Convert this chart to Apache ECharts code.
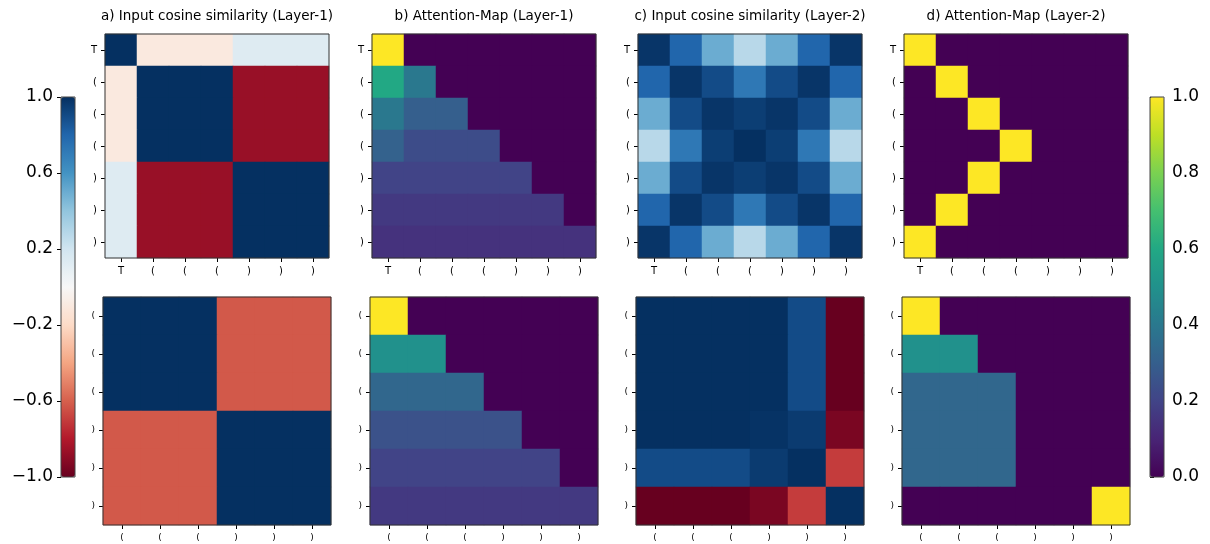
<!DOCTYPE html>
<html>
<head>
<meta charset="utf-8">
<script src="https://cdn.jsdelivr.net/npm/echarts@6/dist/echarts.min.js"></script>
<style>
  html, body { margin: 0; padding: 0; background: #fff; }
  #chart { width: 1210px; height: 544px; }
</style>
</head>
<body>
<div id="chart"></div>
<script>
// token labels
const tokensTop = ['T', '(', '(', '(', ')', ')', ')']
const tokensBottom = ['(', '(', '(', ')', ')', ')']

// a) input cosine similarity, layer 1
const cosL1Top = [
    [1.0, -0.1, -0.1, -0.1, 0.13, 0.13, 0.13],
    [-0.1, 1.0, 1.0, 1.0, -0.87, -0.87, -0.87],
    [-0.1, 1.0, 1.0, 1.0, -0.87, -0.87, -0.87],
    [-0.1, 1.0, 1.0, 1.0, -0.87, -0.87, -0.87],
    [0.13, -0.87, -0.87, -0.87, 1.0, 1.0, 1.0],
    [0.13, -0.87, -0.87, -0.87, 1.0, 1.0, 1.0],
    [0.13, -0.87, -0.87, -0.87, 1.0, 1.0, 1.0]
]
const cosL1Bottom = [
    [1.0, 1.0, 1.0, -0.62, -0.62, -0.62],
    [1.0, 1.0, 1.0, -0.62, -0.62, -0.62],
    [1.0, 1.0, 1.0, -0.62, -0.62, -0.62],
    [-0.62, -0.62, -0.62, 1.0, 1.0, 1.0],
    [-0.62, -0.62, -0.62, 1.0, 1.0, 1.0],
    [-0.62, -0.62, -0.62, 1.0, 1.0, 1.0]
]

// b) attention map, layer 1
const attnL1Top = [
    [1.0, 0, 0, 0, 0, 0, 0],
    [0.6, 0.4, 0, 0, 0, 0, 0],
    [0.4, 0.3, 0.3, 0, 0, 0, 0],
    [0.31, 0.23, 0.23, 0.23, 0, 0, 0],
    [0.2, 0.2, 0.2, 0.2, 0.2, 0, 0],
    [0.167, 0.167, 0.167, 0.167, 0.167, 0.167, 0],
    [0.143, 0.143, 0.143, 0.143, 0.143, 0.143, 0.143]
]
const attnL1Bottom = [
    [1.0, 0, 0, 0, 0, 0],
    [0.5, 0.5, 0, 0, 0, 0],
    [0.333, 0.333, 0.333, 0, 0, 0],
    [0.25, 0.25, 0.25, 0.25, 0, 0],
    [0.2, 0.2, 0.2, 0.2, 0.2, 0],
    [0.167, 0.167, 0.167, 0.167, 0.167, 0.167]
]

// c) input cosine similarity, layer 2
const cosL2Top = [
    [0.98, 0.8, 0.5, 0.28, 0.5, 0.8, 0.98],
    [0.8, 0.98, 0.9, 0.72, 0.9, 0.98, 0.8],
    [0.5, 0.9, 0.98, 0.95, 0.98, 0.9, 0.5],
    [0.28, 0.72, 0.95, 1.0, 0.95, 0.72, 0.28],
    [0.5, 0.9, 0.98, 0.95, 0.98, 0.9, 0.5],
    [0.8, 0.98, 0.9, 0.72, 0.9, 0.98, 0.8],
    [0.98, 0.8, 0.5, 0.28, 0.5, 0.8, 0.98]
]
const cosL2Bottom = [
    [1.0, 1.0, 1.0, 1.0, 0.9, -1.0],
    [1.0, 1.0, 1.0, 1.0, 0.9, -1.0],
    [1.0, 1.0, 1.0, 1.0, 0.9, -1.0],
    [1.0, 1.0, 1.0, 0.99, 0.96, -0.95],
    [0.9, 0.9, 0.9, 0.96, 1.0, -0.7],
    [-1.0, -1.0, -1.0, -0.95, -0.7, 1.0]
]

// d) attention map, layer 2
const attnL2Top = [
    [1, 0, 0, 0, 0, 0, 0],
    [0, 1, 0, 0, 0, 0, 0],
    [0, 0, 1, 0, 0, 0, 0],
    [0, 0, 0, 1, 0, 0, 0],
    [0, 0, 1, 0, 0, 0, 0],
    [0, 1, 0, 0, 0, 0, 0],
    [1, 0, 0, 0, 0, 0, 0]
]
const attnL2Bottom = [
    [1.0, 0, 0, 0, 0, 0],
    [0.5, 0.5, 0, 0, 0, 0],
    [0.333, 0.333, 0.333, 0, 0, 0],
    [0.333, 0.333, 0.333, 0, 0, 0],
    [0.333, 0.333, 0.333, 0, 0, 0],
    [0, 0, 0, 0, 0, 1.0]
]

// colorbar ticks
const cosTicks = [-1.0, -0.6, -0.2, 0.2, 0.6, 1.0]
const attnTicks = [0.0, 0.2, 0.4, 0.6, 0.8, 1.0]

const RDBU = ['#67001f', '#b2182b', '#d6604d', '#f4a582', '#fddbc7', '#f7f7f7',
    '#d1e5f0', '#92c5de', '#4393c3', '#2166ac', '#053061']
const VIRIDIS = ['#440154', '#482475', '#414487', '#355f8d', '#2a788e', '#21918c',
    '#22a884', '#44bf70', '#7ad151', '#bddf26', '#fde725']

const FONT = 'DejaVu Sans'
const COL_CENTER = [217, 484, 750, 1016]
// whole-pixel cells (7x32 / 6x38) so neighbouring cells don't leave seams
const ROWS = [
    { top: 34, size: 224, fs: 10 },
    { top: 297, size: 228, fs: 9 }
]

const panels = [
    { title: 'a) Input cosine similarity (Layer-1)', rows: [cosL1Top, cosL1Bottom], map: 'cos' },
    { title: 'b) Attention-Map (Layer-1)', rows: [attnL1Top, attnL1Bottom], map: 'attn' },
    { title: 'c) Input cosine similarity (Layer-2)', rows: [cosL2Top, cosL2Bottom], map: 'cos' },
    { title: 'd) Attention-Map (Layer-2)', rows: [attnL2Top, attnL2Bottom], map: 'attn' }
]

const toCells = (m) => m.flatMap((row, y) => row.map((v, x) => [x, y, v]))
const fmt = (v) => (v < 0 ? '\u2212' : '') + Math.abs(v).toFixed(1)

const grid = []
const xAxis = []
const yAxis = []
const series = []
const cosIdx = []
const attnIdx = []

const tickStyle = { color: '#000', width: 1 }

ROWS.forEach((row, r) => {
    const cats = r === 0 ? tokensTop : tokensBottom
    panels.forEach((p, c) => {
        const gi = grid.length
        grid.push({
            left: COL_CENTER[c] - row.size / 2, top: row.top, width: row.size, height: row.size,
            show: true, z: 10, backgroundColor: 'transparent',
            borderColor: '#333', borderWidth: 1
        })
        const catAxis = {
            gridIndex: gi, type: 'category', data: cats,
            axisLine: { show: false },
            axisTick: { show: true, alignWithLabel: true, length: 4, lineStyle: tickStyle },
            axisLabel: { fontSize: row.fs, fontFamily: FONT, color: '#000', margin: 8 },
            splitLine: { show: false }
        }
        xAxis.push({ ...catAxis, position: 'bottom' })
        yAxis.push({ ...catAxis, inverse: true })
        ;(p.map === 'cos' ? cosIdx : attnIdx).push(series.length)
        series.push({
            type: 'heatmap', xAxisIndex: gi, yAxisIndex: gi,
            data: toCells(p.rows[r]),
            itemStyle: { borderWidth: 0 },
            emphasis: { disabled: true }
        })
    })
})

// colorbar frames + tick axes
const bars = [
    { left: 61, ticks: cosTicks, min: -1, max: 1, pos: 'left' },
    { left: 1150, ticks: attnTicks, min: 0, max: 1, pos: 'right' }
]
bars.forEach((b) => {
    const gi = grid.length
    grid.push({
        left: b.left, top: 97, width: 14, height: 380,
        show: true, z: 10, backgroundColor: 'transparent',
        borderColor: '#444', borderWidth: 1
    })
    xAxis.push({ gridIndex: gi, type: 'value', min: 0, max: 1, show: false })
    yAxis.push({
        gridIndex: gi, type: 'value', min: b.min, max: b.max, position: b.pos,
        axisLine: { show: false },
        splitLine: { show: false },
        axisTick: { show: true, length: 4, lineStyle: tickStyle, customValues: b.ticks },
        axisLabel: {
            customValues: b.ticks, formatter: fmt,
            fontSize: 17, fontFamily: FONT, color: '#000', margin: 8
        }
    })
})

const option = {
    animation: false,
    backgroundColor: '#fff',
    title: panels.map((p, c) => ({
        text: p.title,
        left: COL_CENTER[c],
        top: 9,
        textAlign: 'center',
        padding: 0,
        textStyle: { fontSize: 13.5, fontWeight: 'normal', fontFamily: FONT, color: '#000' }
    })),
    grid,
    xAxis,
    yAxis,
    visualMap: [
        {
            type: 'continuous', min: -1, max: 1, seriesIndex: cosIdx,
            calculable: false, hoverLink: false, padding: 0,
            left: 61, top: 97, itemWidth: 14, itemHeight: 380,
            inRange: { color: RDBU }
        },
        {
            type: 'continuous', min: 0, max: 1, seriesIndex: attnIdx,
            calculable: false, hoverLink: false, padding: 0,
            left: 1150, top: 97, itemWidth: 14, itemHeight: 380,
            inRange: { color: VIRIDIS }
        }
    ],
    series
}

const chart = echarts.init(document.getElementById('chart'))
chart.setOption(option)
</script>
</body>
</html>
